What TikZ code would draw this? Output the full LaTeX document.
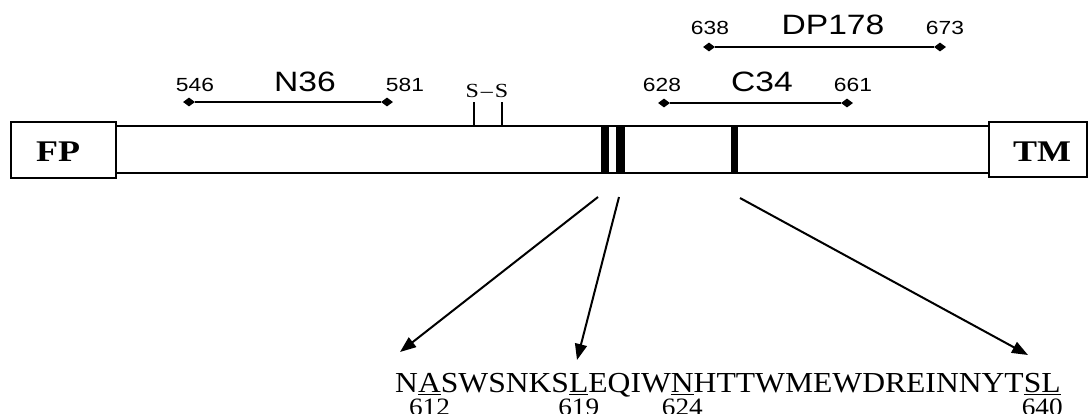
\documentclass[tikz,border=0pt]{standalone}
\usepackage{fontspec}
\usetikzlibrary{arrows.meta,shapes.geometric}
\newfontfamily\seqfont[FakeStretch=1.09]{Liberation Serif}
\newfontfamily\boxfont[FakeStretch=1.2]{Liberation Serif}
\newfontfamily\labfont[FakeStretch=1.2]{Liberation Sans}
% underlined residue
\newcommand\ulres[1]{\setbox0\hbox{#1}\rlap{\rule[-3pt]{\wd0}{1.5pt}}\box0}
% underlined residue with its number set below it
\newcommand\resnum[2]{\setbox2\hbox{#1}\rlap{\hbox to \wd2{\hss\smash{\raisebox{-23pt}{\fontsize{25}{25}\selectfont #2}}\hss}}\ulres{#1}}
\tikzset{
  boxframe/.style={draw, line width=1.4pt},
  helixbar/.style={fill=black, draw=none},
  endmark/.style={diamond, fill=black, inner sep=0pt, minimum width=12pt, minimum height=9pt},
  spanline/.style={line width=2pt},
  posnum/.style={font=\labfont\fontsize{19}{19}\selectfont, inner sep=0pt},
  pepname/.style={font=\labfont\fontsize{28}{28}\selectfont, inner sep=0pt},
  pointer/.style={line width=2pt, -{Triangle[length=16pt,width=12pt]}},
}
\begin{document}
\begin{tikzpicture}[x=1pt, y=-1pt]
\fill[white] (0,0) rectangle (1089,413);
\useasboundingbox (0,0) rectangle (1089,413);

% protein bar with the end domains
\draw[boxframe] (116,126) rectangle (989,173);
\draw[boxframe, fill=white] (11,122) rectangle (116,178);
\draw[boxframe, fill=white] (989,122) rectangle (1087,177);
\node[font=\boxfont\bfseries\fontsize{30}{30}\selectfont, inner sep=0pt] (fp) at (58,152) {FP};
\node[font=\boxfont\bfseries\fontsize{30}{30}\selectfont, inner sep=0pt] (tm) at (1042,152) {TM};

% marked residues inside the bar
\fill[helixbar] (601,126) rectangle (609,173);
\fill[helixbar] (616,126) rectangle (625,173);
\fill[helixbar] (731,126) rectangle (738,173);

% disulfide bond
\coordinate (ssa) at (474,102);
\coordinate (ssb) at (502,102);
\coordinate (ssa0) at (474,126);
\coordinate (ssb0) at (502,126);
\draw[line width=1.2pt] (ssa) -- (ssa0);
\draw[line width=1.2pt] (ssb) -- (ssb0);
\node[font=\boxfont\fontsize{20}{20}\selectfont, inner sep=0pt] (ss) at (487,91) {S\kern2pt–\kern2pt S};

% N36
\node[endmark] (n36a) at (189,102) {};
\node[endmark] (n36b) at (387,102) {};
\draw[spanline] (n36a) -- (n36b);
\node[posnum] (n36l) at (195,85) {546};
\node[posnum] (n36r) at (405,85) {581};
\node[pepname] (n36) at (305,82) {N36};

% C34
\node[endmark] (c34a) at (664,103) {};
\node[endmark] (c34b) at (847,103) {};
\draw[spanline] (c34a) -- (c34b);
\node[posnum] (c34l) at (662,85) {628};
\node[posnum] (c34r) at (853,85) {661};
\node[pepname] (c34) at (762,82) {C34};

% DP178
\node[endmark] (dpa) at (709,47) {};
\node[endmark] (dpb) at (940,47) {};
\draw[spanline] (dpa) -- (dpb);
\node[posnum] (dpl) at (710,28) {638};
\node[posnum] (dpr) at (945,28) {673};
\node[pepname] (dp) at (833,25) {DP178};

% sequence
\node[font=\seqfont\fontsize{29}{29}\selectfont, inner sep=0pt, anchor=base west] (seq) at (395,392)
  {N\resnum{A}{612}SWSNKS\resnum{L}{619}EQIW\resnum{N}{624}HTTWMEWDREINNYT\resnum{SL}{640}};

% pointers from the marked residues
\coordinate (h1) at (598,197);
\coordinate (h2) at (619,197);
\coordinate (h3) at (740,198);
\coordinate (t1) at (400,352);
\coordinate (t2) at (577,360);
\coordinate (t3) at (1028,355);
\draw[pointer] (h1) -- (t1);
\draw[pointer] (h2) -- (t2);
\draw[pointer] (h3) -- (t3);
\end{tikzpicture}
\end{document}
